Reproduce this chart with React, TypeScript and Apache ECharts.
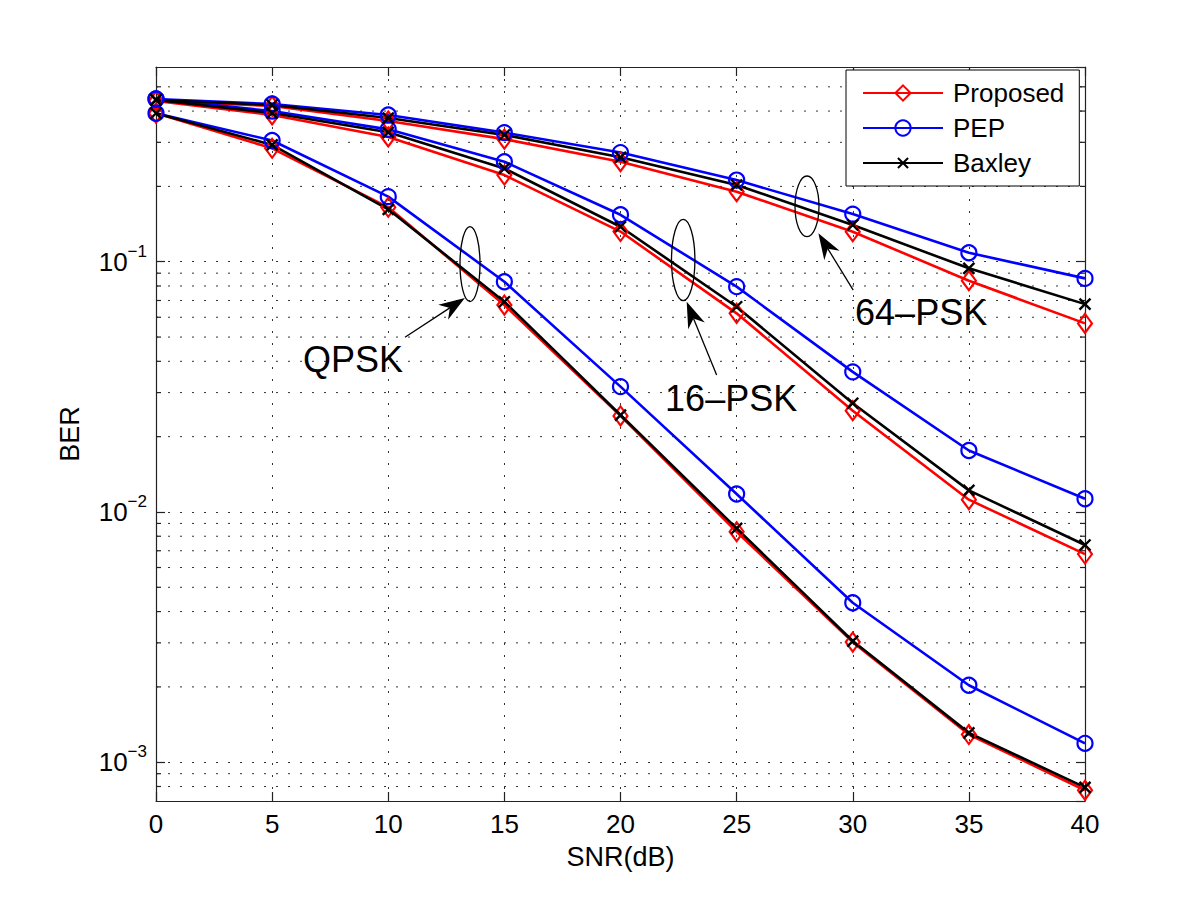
import React, { useEffect, useRef } from 'react';
import * as echarts from 'echarts';

// ---------- data ----------
const snr = [0, 5, 10, 15, 20, 25, 30, 35, 40];

const qpskProposed = [0.392, 0.284, 0.165, 0.0671, 0.0242, 0.00834, 0.00302, 0.00129, 0.000773];
const qpskPEP = [0.392, 0.305, 0.182, 0.0832, 0.0317, 0.0118, 0.00434, 0.00203, 0.00119];
const qpskBaxley = [0.392, 0.293, 0.162, 0.0692, 0.0244, 0.0086, 0.00305, 0.00131, 0.000793];

const psk16Proposed = [0.439, 0.386, 0.315, 0.222, 0.132, 0.0622, 0.0254, 0.0112, 0.00679];
const psk16PEP = [0.447, 0.4, 0.338, 0.251, 0.154, 0.0795, 0.0363, 0.0176, 0.0113];
const psk16Baxley = [0.443, 0.393, 0.329, 0.236, 0.138, 0.0661, 0.0272, 0.0122, 0.00738];

const psk64Proposed = [0.439, 0.419, 0.365, 0.309, 0.251, 0.1905, 0.1318, 0.084, 0.0567];
const psk64PEP = [0.447, 0.427, 0.386, 0.328, 0.273, 0.212, 0.155, 0.1086, 0.0858];
const psk64Baxley = [0.443, 0.423, 0.375, 0.321, 0.2615, 0.2026, 0.1402, 0.0941, 0.0677];

const methodNames = ['Proposed', 'PEP', 'Baxley'];
const methodColors = ['#ff0000', '#0000ff', '#000000'];

const yMin = 7e-4;
const yMax = 0.6;
const xTickValues = [0, 5, 10, 15, 20, 25, 30, 35, 40];
const minorGridValues = [
  8e-4, 9e-4,
  2e-3, 3e-3, 4e-3, 5e-3, 6e-3, 7e-3, 8e-3, 9e-3,
  2e-2, 3e-2, 4e-2, 5e-2, 6e-2, 7e-2, 8e-2, 9e-2,
  0.2, 0.3, 0.4, 0.5,
];

// annotation anchors in data space [SNR, BER]
const annotationLabels = ['QPSK', '16–PSK', '64–PSK'];
const annotationEllipse = [[13.52, 0.0979], [22.7, 0.1016], [28.03, 0.1665]];
const annotationArrowTail = [[10.72, 0.0499], [24.14, 0.0353], [30.02, 0.077]];
const annotationArrowTip = [[13.3, 0.0716], [22.85, 0.0692], [28.52, 0.1299]];
const annotationText = [[6.33, 0.0408], [21.92, 0.0284], [30.1, 0.0628]];

// ---------- styles ----------
const FONT = "'Liberation Sans', Arial, Helvetica, sans-serif";
const ellipseRadii = [[10, 37.5], [11.7, 40.7], [12, 30.3]];
const xSymbol = 'path://M-2.5,-2.5M0,0L10,10M10,0L0,10M12.5,12.5';

function buildSeries() {
  const groups = [
    [qpskProposed, qpskPEP, qpskBaxley],
    [psk16Proposed, psk16PEP, psk16Baxley],
    [psk64Proposed, psk64PEP, psk64Baxley],
  ];
  const series: any[] = [];
  for (let m = 0; m < 3; m++) {
    for (let g = 0; g < 3; g++) {
      const vals = groups[g][m];
      const color = methodColors[m];
      let symbol: string = 'diamond';
      let symbolSize: any = [14, 19];
      let itemStyle: any = { color: 'transparent', borderColor: color, borderWidth: 2.2 };
      if (m === 1) {
        symbol = 'circle';
        symbolSize = 15;
      } else if (m === 2) {
        symbol = xSymbol;
        symbolSize = 16.5;
        itemStyle = { color: color, borderColor: color, borderWidth: 2.4 };
      }
      series.push({
        type: 'line',
        name: methodNames[m],
        data: snr.map((x, i) => [x, vals[i]]),
        symbol,
        symbolSize,
        showAllSymbol: true,
        itemStyle,
        lineStyle: { color, width: 2.6 },
        clip: false,
        z: 3,
        silent: true,
        emphasis: { disabled: true },
      });
    }
  }
  // minor log grid lines and minor ticks drawn through the y scale
  series.push({
    type: 'custom',
    name: 'minorGrid',
    silent: true,
    z: 1,
    clip: false,
    data: minorGridValues.map((v) => [0, v]),
    encode: { x: 0, y: 1 },
    renderItem: (params: any, api: any) => {
      const cs = params.coordSys;
      const pt = api.coord([0, api.value(1)]);
      const y = pt[1];
      return {
        type: 'group',
        children: [
          {
            type: 'line',
            shape: { x1: cs.x, y1: y, x2: cs.x + cs.width, y2: y },
            style: { stroke: '#333', lineWidth: 1, lineDash: [2, 10] },
          },
          {
            type: 'line',
            shape: { x1: cs.x, y1: y, x2: cs.x + 5, y2: y },
            style: { stroke: '#222', lineWidth: 1.2 },
          },
          {
            type: 'line',
            shape: { x1: cs.x + cs.width - 5, y1: y, x2: cs.x + cs.width, y2: y },
            style: { stroke: '#222', lineWidth: 1.2 },
          },
        ],
      };
    },
  });
  return series;
}

function yLabel(v: number) {
  const e = Math.log10(v);
  const r = Math.round(e);
  if (Math.abs(e - r) < 1e-6) return `{b|10}{s|−${-r}}`;
  return '';
}

const axisLineStyle = { color: '#222', width: 1.2 };

function buildOption(): any {
  return {
    animation: false,
    backgroundColor: '#ffffff',
    textStyle: { fontFamily: FONT },
    grid: { left: 156, right: 115, top: 67, bottom: 102, containLabel: false },
    legend: {
      data: methodNames,
      orient: 'vertical',
      left: 846,
      top: 70,
      itemWidth: 80,
      itemHeight: 19,
      itemGap: 9,
      padding: [10, 15, 10, 16],
      borderColor: '#000',
      borderWidth: 1,
      backgroundColor: '#fff',
      selectedMode: false,
      textStyle: { fontSize: 26, fontFamily: FONT, color: '#000', padding: [0, 0, 0, 5] },
    },
    xAxis: [
      {
        type: 'value',
        min: 0,
        max: 40,
        interval: 5,
        position: 'bottom',
        name: 'SNR(dB)',
        nameLocation: 'middle',
        nameGap: 42,
        nameTextStyle: { fontSize: 27, fontFamily: FONT, color: '#000' },
        axisLine: { show: true, onZero: false, lineStyle: axisLineStyle },
        axisTick: { show: true, inside: true, length: 9, lineStyle: axisLineStyle, customValues: xTickValues },
        axisLabel: { fontSize: 26, fontFamily: FONT, color: '#000', margin: 10 },
        splitLine: { show: true, lineStyle: { color: '#333', width: 1, type: [2, 10] } },
      },
      {
        type: 'value',
        min: 0,
        max: 40,
        interval: 5,
        position: 'top',
        axisLine: { show: true, onZero: false, lineStyle: axisLineStyle },
        axisTick: { show: true, inside: true, length: 9, lineStyle: axisLineStyle },
        axisLabel: { show: false },
        splitLine: { show: false },
      },
    ],
    yAxis: [
      {
        type: 'log',
        logBase: 10,
        min: yMin,
        max: yMax,
        position: 'left',
        name: 'BER',
        nameLocation: 'middle',
        nameGap: 73,
        nameTextStyle: { fontSize: 27, fontFamily: FONT, color: '#000' },
        axisLine: { show: true, onZero: false, lineStyle: axisLineStyle },
        axisTick: { show: true, inside: true, length: 9, lineStyle: axisLineStyle },
        axisLabel: {
          margin: 9,
          showMinLabel: false,
          showMaxLabel: false,
          formatter: yLabel,
          rich: {
            b: { fontSize: 26, fontFamily: FONT, color: '#000', padding: [6, 0, 6, 0] },
            s: { fontSize: 17, fontFamily: FONT, color: '#000', verticalAlign: 'top' },
          },
        },
        splitLine: { show: true, lineStyle: { color: '#333', width: 1, type: [2, 10] } },
      },
      {
        type: 'log',
        logBase: 10,
        min: yMin,
        max: yMax,
        position: 'right',
        axisLine: { show: true, onZero: false, lineStyle: axisLineStyle },
        axisTick: { show: true, inside: true, length: 9, lineStyle: axisLineStyle },
        axisLabel: { show: false },
        splitLine: { show: false },
      },
    ],
    series: buildSeries(),
  };
}

function arrowElements(tail: number[], tip: number[]) {
  const L = 26, W = 9, N = 8;
  const dx = tip[0] - tail[0];
  const dy = tip[1] - tail[1];
  const len = Math.hypot(dx, dy);
  const ux = dx / len, uy = dy / len;
  const nx = -uy, ny = ux;
  const bx = tip[0] - ux * L, by = tip[1] - uy * L;
  const notch = [tip[0] - ux * (L - N), tip[1] - uy * (L - N)];
  return [
    {
      type: 'line',
      z: 20,
      shape: { x1: tail[0], y1: tail[1], x2: notch[0], y2: notch[1] },
      style: { stroke: '#000', lineWidth: 1.3 },
    },
    {
      type: 'polygon',
      z: 20,
      shape: { points: [tip, [bx + nx * W, by + ny * W], notch, [bx - nx * W, by - ny * W]] },
      style: { fill: '#000' },
    },
  ];
}

export default function App() {
  const ref = useRef<HTMLDivElement>(null);
  useEffect(() => {
    if (!ref.current) return;
    const chart = echarts.init(ref.current, null, { renderer: 'svg' });
    chart.setOption(buildOption());
    const toPx = (p: number[]) => chart.convertToPixel({ gridIndex: 0 }, p) as number[];
    const graphics: any[] = [];
    for (let i = 0; i < annotationLabels.length; i++) {
      const c = toPx(annotationEllipse[i]);
      graphics.push({
        type: 'ellipse',
        z: 20,
        shape: { cx: c[0], cy: c[1], rx: ellipseRadii[i][0], ry: ellipseRadii[i][1] },
        style: { fill: 'none', stroke: '#000', lineWidth: 1.3 },
      });
      graphics.push(...arrowElements(toPx(annotationArrowTail[i]), toPx(annotationArrowTip[i])));
      const t = toPx(annotationText[i]);
      graphics.push({
        type: 'text',
        z: 20,
        x: t[0],
        y: t[1],
        style: {
          text: annotationLabels[i],
          fontSize: 36,
          fontFamily: FONT,
          fill: '#000',
          align: 'left',
          verticalAlign: 'middle',
        },
      });
    }
    chart.setOption({ graphic: graphics });
    return () => chart.dispose();
  }, []);
  return (
    <div
      ref={ref}
      style={{ position: 'absolute', left: 0, top: 0, width: 1200, height: 903, background: '#fff' }}
    />
  );
}
